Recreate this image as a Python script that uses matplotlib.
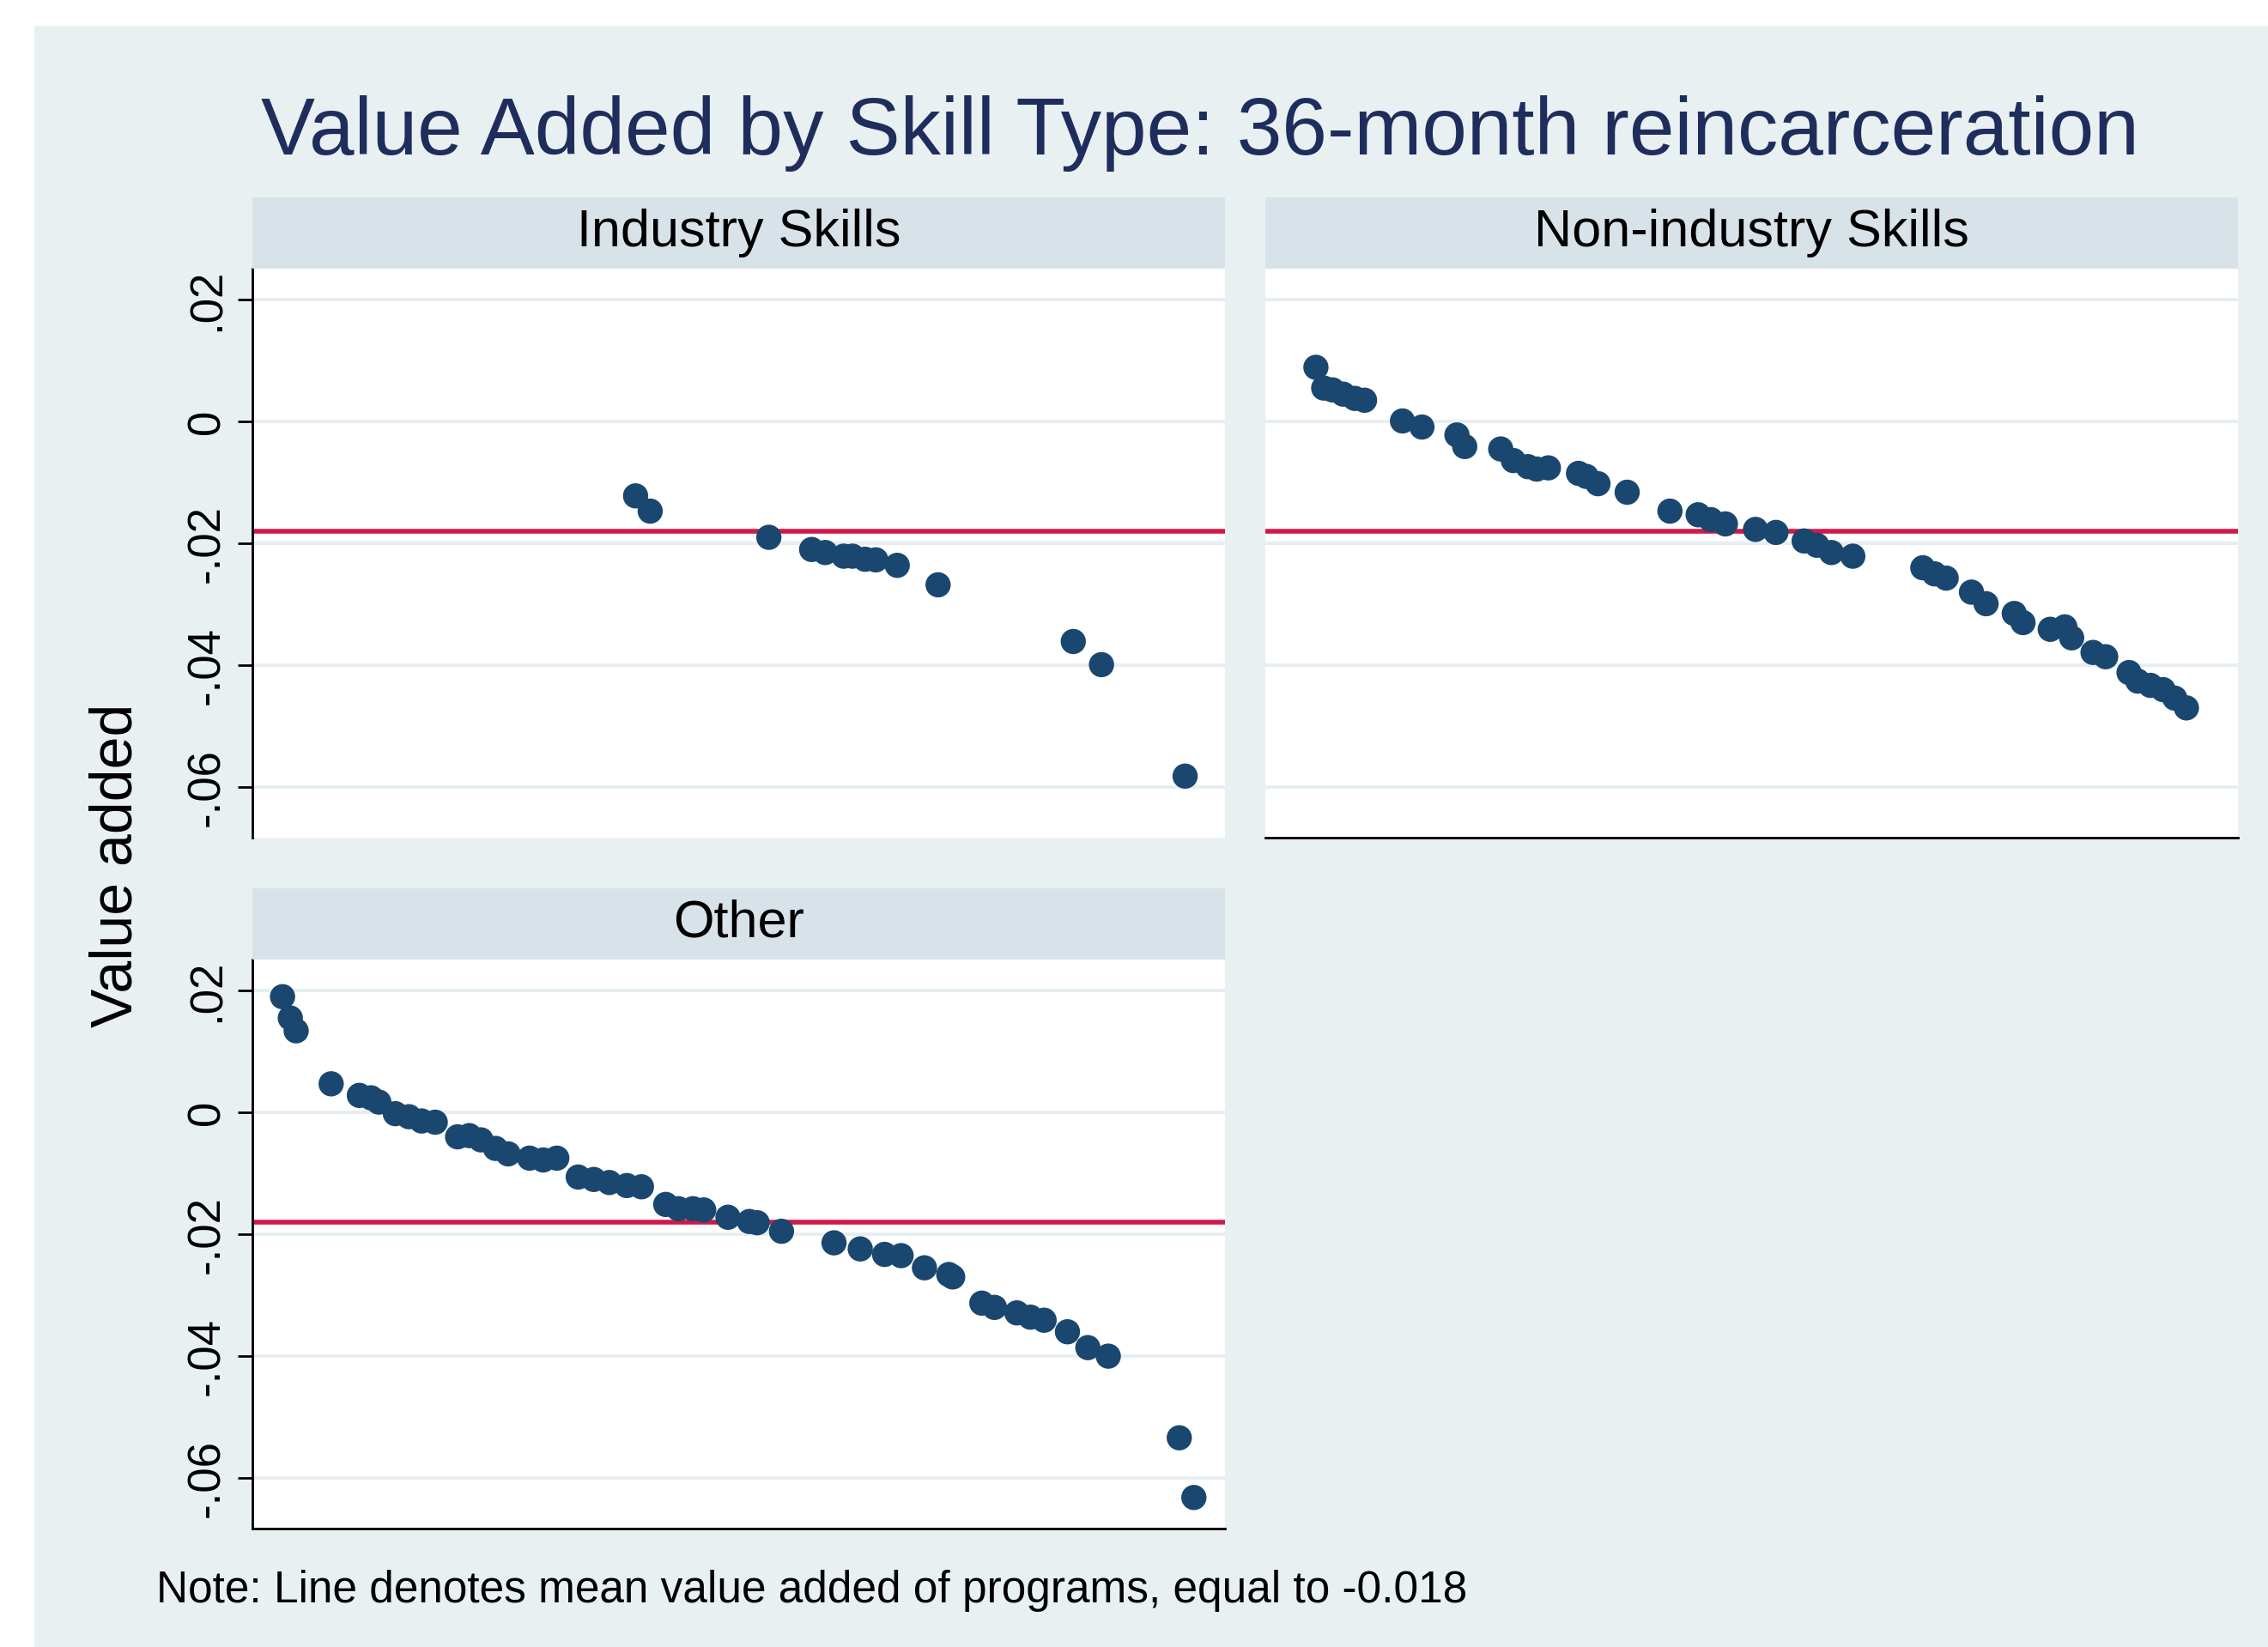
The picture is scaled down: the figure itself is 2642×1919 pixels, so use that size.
import matplotlib
matplotlib.use("Agg")
import matplotlib.pyplot as plt
from matplotlib.patches import Rectangle

plt.rcParams["font.family"] = ["Liberation Sans", "DejaVu Sans"]

# x = position of the program in the overall ranking (0-100 scale), y = value added
industry_x = [39.4, 40.9, 53.1, 57.5, 58.9, 60.8, 61.7, 63.0, 64.1, 66.3, 70.5, 84.4, 87.3, 95.9]
industry_y = [-0.0122, -0.0147, -0.0190, -0.0210, -0.0215, -0.0221, -0.0221, -0.0226,
              -0.0227, -0.0236, -0.0268, -0.0361, -0.0399, -0.0582]

nonind_x = [5.2, 6.0, 6.9, 8.0, 9.2, 10.2, 14.1, 16.1, 19.7, 20.5, 24.2, 25.5, 27.0, 27.9,
            29.1, 32.2, 33.0, 34.2, 37.2, 41.6, 44.5, 45.8, 47.3, 50.4, 52.5, 55.4, 56.7,
            58.2, 60.4, 67.6, 68.8, 70.0, 72.6, 74.1, 77.0, 77.9, 80.7, 82.2, 82.9, 85.1,
            86.4, 88.8, 89.7, 91.0, 92.3, 93.5, 94.7]
nonind_y = [0.0089, 0.0055, 0.0052, 0.0045, 0.0038, 0.0035, 0.0001, -0.0009, -0.0022,
            -0.0041, -0.0045, -0.0064, -0.0074, -0.0078, -0.0076, -0.0085, -0.0090,
            -0.0102, -0.0116, -0.0147, -0.0153, -0.0161, -0.0168, -0.0177, -0.0182,
            -0.0196, -0.0203, -0.0215, -0.0221, -0.0240, -0.0250, -0.0257, -0.0280,
            -0.0299, -0.0315, -0.0330, -0.0341, -0.0337, -0.0355, -0.0379, -0.0386,
            -0.0412, -0.0426, -0.0433, -0.0440, -0.0454, -0.0470]

other_x = [3.1, 3.9, 4.5, 8.1, 11.0, 12.2, 13.0, 14.7, 16.1, 17.4, 18.8, 21.1, 22.3, 23.5,
           25.0, 26.3, 28.5, 29.9, 31.3, 33.5, 35.1, 36.7, 38.5, 40.0, 42.5, 43.8, 45.3,
           46.4, 48.9, 51.1, 51.9, 54.4, 59.8, 62.5, 65.0, 66.7, 69.1, 71.6, 72.0, 75.0,
           76.3, 78.6, 80.0, 81.4, 83.8, 85.9, 88.0, 95.3, 96.8]
other_y = [0.0190, 0.0155, 0.0134, 0.0047, 0.0028, 0.0024, 0.0017, -0.0002, -0.0007,
           -0.0014, -0.0016, -0.0040, -0.0038, -0.0045, -0.0059, -0.0068, -0.0075,
           -0.0078, -0.0075, -0.0106, -0.0110, -0.0115, -0.0120, -0.0122, -0.0151,
           -0.0158, -0.0158, -0.0160, -0.0172, -0.0179, -0.0181, -0.0195, -0.0214,
           -0.0224, -0.0233, -0.0235, -0.0255, -0.0266, -0.0270, -0.0313, -0.0320,
           -0.0329, -0.0336, -0.0341, -0.0360, -0.0386, -0.0400, -0.0534, -0.0632]

mean_va = -0.018
yticks = [0.02, 0, -0.02, -0.04, -0.06]
ytick_labels = [".02", "0", "-.02", "-.04", "-.06"]

W, H = 2642, 1919
BG = "#e9f0f2"
STRIP = "#d8e3e9"
GRID = "#e6eef1"
NAVY = "#1a476f"
LINE = "#d2184a"


def frac(x0, y0, x1, y1):
    # pixel box (top-left origin) -> figure fraction [l, b, w, h]
    return [x0 / W, 1 - y1 / H, (x1 - x0) / W, (y1 - y0) / H]


fig = plt.figure(figsize=(W / 200, H / 200), dpi=200)
fig.patch.set_facecolor("white")
fig.add_artist(Rectangle((40 / W, 0), 1, 1 - 30 / H, transform=fig.transFigure,
                         facecolor=BG, edgecolor="none", zorder=-10))

panels = [
    ("Industry Skills", industry_x, industry_y, (294, 313, 1427, 976), True, False),
    ("Non-industry Skills", nonind_x, nonind_y, (1474, 313, 2607, 976), False, True),
    ("Other", other_x, other_y, (294, 1118, 1427, 1781), True, True),
]

for title, xs, ys, box, show_y, show_x in panels:
    x0, y0, x1, y1 = box
    ax = fig.add_axes(frac(x0, y0, x1, y1))
    ax.set_facecolor("white")
    ax.set_xlim(0, 100)
    ax.set_ylim(-0.0683, 0.0251)
    for t in yticks:
        ax.axhline(t, color=GRID, linewidth=1.4, zorder=1)
    ax.axhline(mean_va, color=LINE, linewidth=2.0, zorder=2)
    ax.scatter(xs, ys, s=112, color=NAVY, edgecolors="none", zorder=3)

    for side in ["top", "right", "left", "bottom"]:
        ax.spines[side].set_visible(False)
    ax.set_xticks([])
    if show_y:
        ax.spines["left"].set_visible(True)
        ax.spines["left"].set_linewidth(1.0)
        ax.set_yticks(yticks)
        ax.set_yticklabels(ytick_labels, rotation=90, va="center", fontsize=19)
        ax.tick_params(axis="y", length=6, width=1.0, pad=4)
    else:
        ax.set_yticks([])
    if show_x:
        ax.spines["bottom"].set_visible(True)
        ax.spines["bottom"].set_linewidth(1.0)

    # strip with panel title
    sax = fig.add_axes(frac(x0, y0 - 83, x1, y0))
    sax.set_facecolor(STRIP)
    sax.set_xticks([])
    sax.set_yticks([])
    for side in sax.spines.values():
        side.set_visible(False)
    sax.text(0.5, 0.5, title, ha="center", va="center", fontsize=22,
             transform=sax.transAxes)

fig.text(1398 / W, 1 - 155 / H, "Value Added by Skill Type: 36-month reincarceration",
         ha="center", va="center", fontsize=34, color="#1f2d5c")
fig.text(135 / W, 1 - 1008 / H, "Value added", rotation=90, ha="center", va="center",
         fontsize=24.5)
fig.text(182 / W, 1 - 1853 / H, "Note: Line denotes mean value added of programs, equal to -0.018",
         ha="left", va="center", fontsize=18.5)

fig.savefig("out.png", dpi=200)
